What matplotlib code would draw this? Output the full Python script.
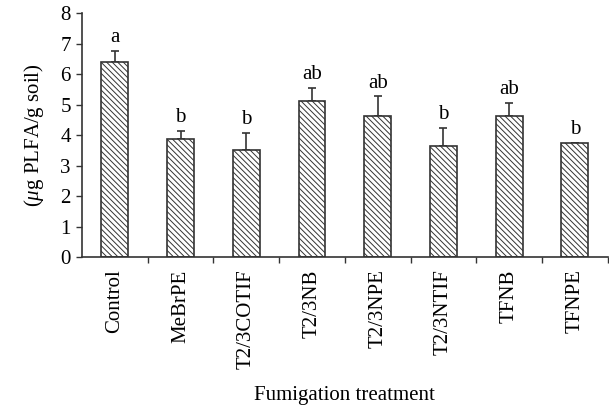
import matplotlib.pyplot as plt
import numpy as np

plt.rcParams['font.family'] = ['Liberation Serif', 'DejaVu Serif']
plt.rcParams['mathtext.fontset'] = 'custom'
plt.rcParams['mathtext.rm'] = 'Liberation Serif'
plt.rcParams['mathtext.it'] = 'Liberation Serif:italic'
plt.rcParams['hatch.linewidth'] = 0.7
plt.rcParams['hatch.color'] = '#333333'

# data
treatments = ['Control', 'MeBrPE', 'T2/3COTIF', 'T2/3NB', 'T2/3NPE',
              'T2/3NTIF', 'TFNB', 'TFNPE']
plfa = [6.40, 3.87, 3.51, 5.12, 4.62, 3.66, 4.63, 3.73]
err = [0.37, 0.27, 0.57, 0.43, 0.66, 0.58, 0.43, 0.02]
letters = ['a', 'b', 'b', 'ab', 'ab', 'b', 'ab', 'b']

fig = plt.figure(figsize=(6.09, 4.09), dpi=100)
ax = fig.add_axes([0.1346, 0.3716, 0.8634, 0.5959])

x = np.arange(len(treatments))
ax.bar(x, plfa, width=0.41, color='white', edgecolor='#333333',
       linewidth=1.2, hatch='\\\\\\\\\\\\', zorder=2)
ax.errorbar(x, plfa, yerr=[np.zeros(len(err)), err], fmt='none',
            ecolor='#333333', elinewidth=1.2, capsize=3, capthick=1.2, zorder=1)

for xi, v, e, lab in zip(x, plfa, err, letters):
    ax.text(xi, v + e + 0.12, lab, ha='center', va='bottom', fontsize=15)

ax.set_xlim(-0.5, 7.5)
ax.set_ylim(0, 8)
ax.set_yticks(range(0, 9))
ax.tick_params(axis='y', labelsize=15, length=4, width=1, color='#333333', pad=4)
ax.set_xticks(x)
ax.set_xticklabels(treatments, rotation=90, fontsize=15)
ax.tick_params(axis='x', which='major', length=0, pad=9)
ax.set_xticks(x + 0.5, minor=True)
ax.tick_params(axis='x', which='minor', length=4, width=1, color='#333333')

for s in ['top', 'right']:
    ax.spines[s].set_visible(False)
for s in ['left', 'bottom']:
    ax.spines[s].set_color('#333333')
    ax.spines[s].set_linewidth(1.2)
ax.spines['bottom'].set_clip_on(False)

ax.set_ylabel(r'($\mu$g PLFA/g soil)', fontsize=15, labelpad=10)
ax.set_xlabel('Fumigation treatment', fontsize=15, labelpad=12)

fig.savefig('out.png', dpi=100)
